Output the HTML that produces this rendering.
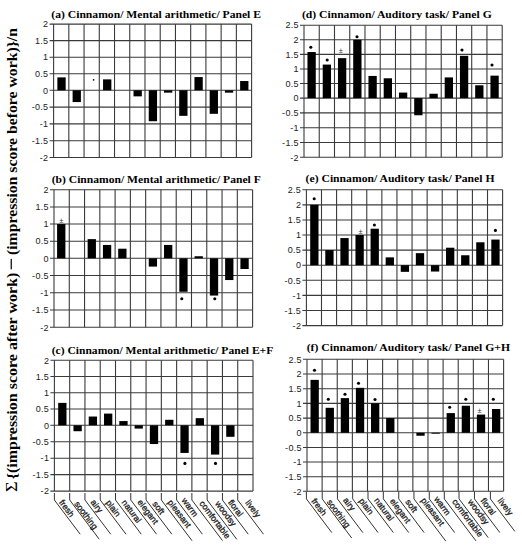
<!DOCTYPE html>
<html><head><meta charset="utf-8"><style>
html,body{margin:0;padding:0;background:#fff;overflow:hidden;width:522px;height:550px;}
svg{display:block;}
.grid line{stroke:#3a3a3a;stroke-width:1.1;shape-rendering:auto;}
.bars rect,.bars circle{fill:#000;}
.tk{font-family:"Liberation Sans",sans-serif;font-size:9.0px;text-anchor:end;fill:#222;letter-spacing:0.3px;}
.tt{font-family:"Liberation Serif",serif;font-weight:bold;font-size:10.8px;fill:#000;}
.pm{font-family:"Liberation Sans",sans-serif;font-size:7.5px;text-anchor:middle;fill:#333;}
.xl{font-family:"Liberation Sans",sans-serif;font-size:8.6px;fill:#1a1a1a;stroke:#1a1a1a;stroke-width:0.3px;}
.xlab polyline{fill:none;stroke:#333;stroke-width:1.0;}
.yl{font-family:"Liberation Serif",serif;font-weight:bold;font-size:14px;fill:#000;}
</style></head><body>
<svg width="522" height="550" viewBox="0 0 522 550">
<rect width="522" height="550" fill="#fff"/>
<g class="grid"><line x1="49.60" y1="24.10" x2="251.60" y2="24.10"/><text class="tk" x="48.40" y="27.35">2</text><line x1="49.60" y1="40.65" x2="251.60" y2="40.65"/><text class="tk" x="48.40" y="43.90">1.5</text><line x1="49.60" y1="57.20" x2="251.60" y2="57.20"/><text class="tk" x="48.40" y="60.45">1</text><line x1="49.60" y1="73.75" x2="251.60" y2="73.75"/><text class="tk" x="48.40" y="77.00">0.5</text><line x1="49.60" y1="90.30" x2="251.60" y2="90.30"/><text class="tk" x="48.40" y="93.55">0</text><line x1="49.60" y1="107.10" x2="251.60" y2="107.10"/><text class="tk" x="48.40" y="110.35">-0.5</text><line x1="49.60" y1="123.90" x2="251.60" y2="123.90"/><text class="tk" x="48.40" y="127.15">-1</text><line x1="49.60" y1="140.70" x2="251.60" y2="140.70"/><text class="tk" x="48.40" y="143.95">-1.5</text><line x1="49.60" y1="157.50" x2="251.60" y2="157.50"/><text class="tk" x="48.40" y="160.75">-2</text><line x1="53.60" y1="24.10" x2="53.60" y2="157.50"/><line x1="68.83" y1="24.10" x2="68.83" y2="157.50"/><line x1="84.06" y1="24.10" x2="84.06" y2="157.50"/><line x1="99.29" y1="24.10" x2="99.29" y2="157.50"/><line x1="114.52" y1="24.10" x2="114.52" y2="157.50"/><line x1="129.75" y1="24.10" x2="129.75" y2="157.50"/><line x1="144.98" y1="24.10" x2="144.98" y2="157.50"/><line x1="160.22" y1="24.10" x2="160.22" y2="157.50"/><line x1="175.45" y1="24.10" x2="175.45" y2="157.50"/><line x1="190.68" y1="24.10" x2="190.68" y2="157.50"/><line x1="205.91" y1="24.10" x2="205.91" y2="157.50"/><line x1="221.14" y1="24.10" x2="221.14" y2="157.50"/><line x1="236.37" y1="24.10" x2="236.37" y2="157.50"/><line x1="251.60" y1="24.10" x2="251.60" y2="157.50"/></g>
<g class="bars"><rect x="57.37" y="77.39" width="8.30" height="12.91"/><rect x="72.60" y="90.30" width="8.30" height="11.76"/><rect x="103.06" y="79.38" width="8.30" height="10.92"/><rect x="133.52" y="90.30" width="8.30" height="6.05"/><rect x="148.75" y="90.30" width="8.30" height="30.91"/><rect x="163.98" y="90.30" width="8.30" height="2.35"/><rect x="179.21" y="90.30" width="8.30" height="25.54"/><rect x="194.44" y="77.06" width="8.30" height="13.24"/><rect x="209.67" y="90.30" width="8.30" height="23.52"/><rect x="224.90" y="90.30" width="8.30" height="2.35"/><rect x="240.13" y="81.03" width="8.30" height="9.27"/><circle cx="93.60" cy="79.80" r="0.85" fill="#222"/></g>
<text class="tt" x="51.30" y="17.80" textLength="209.70" lengthAdjust="spacingAndGlyphs">(a) Cinnamon/ Mental arithmetic/ Panel E</text>
<g class="grid"><line x1="50.00" y1="189.80" x2="252.60" y2="189.80"/><text class="tk" x="48.80" y="193.05">2</text><line x1="50.00" y1="206.93" x2="252.60" y2="206.93"/><text class="tk" x="48.80" y="210.18">1.5</text><line x1="50.00" y1="224.05" x2="252.60" y2="224.05"/><text class="tk" x="48.80" y="227.30">1</text><line x1="50.00" y1="241.18" x2="252.60" y2="241.18"/><text class="tk" x="48.80" y="244.43">0.5</text><line x1="50.00" y1="258.30" x2="252.60" y2="258.30"/><text class="tk" x="48.80" y="261.55">0</text><line x1="50.00" y1="275.55" x2="252.60" y2="275.55"/><text class="tk" x="48.80" y="278.80">-0.5</text><line x1="50.00" y1="292.80" x2="252.60" y2="292.80"/><text class="tk" x="48.80" y="296.05">-1</text><line x1="50.00" y1="310.05" x2="252.60" y2="310.05"/><text class="tk" x="48.80" y="313.30">-1.5</text><line x1="50.00" y1="327.30" x2="252.60" y2="327.30"/><text class="tk" x="48.80" y="330.55">-2</text><line x1="54.00" y1="189.80" x2="54.00" y2="327.30"/><line x1="69.28" y1="189.80" x2="69.28" y2="327.30"/><line x1="84.55" y1="189.80" x2="84.55" y2="327.30"/><line x1="99.83" y1="189.80" x2="99.83" y2="327.30"/><line x1="115.11" y1="189.80" x2="115.11" y2="327.30"/><line x1="130.38" y1="189.80" x2="130.38" y2="327.30"/><line x1="145.66" y1="189.80" x2="145.66" y2="327.30"/><line x1="160.94" y1="189.80" x2="160.94" y2="327.30"/><line x1="176.22" y1="189.80" x2="176.22" y2="327.30"/><line x1="191.49" y1="189.80" x2="191.49" y2="327.30"/><line x1="206.77" y1="189.80" x2="206.77" y2="327.30"/><line x1="222.05" y1="189.80" x2="222.05" y2="327.30"/><line x1="237.32" y1="189.80" x2="237.32" y2="327.30"/><line x1="252.60" y1="189.80" x2="252.60" y2="327.30"/></g>
<g class="bars"><rect x="57.09" y="224.05" width="8.30" height="34.25"/><rect x="87.64" y="239.12" width="8.30" height="19.18"/><rect x="102.92" y="244.94" width="8.30" height="13.36"/><rect x="118.20" y="248.71" width="8.30" height="9.59"/><rect x="148.75" y="258.30" width="8.30" height="8.28"/><rect x="164.03" y="244.94" width="8.30" height="13.36"/><rect x="179.30" y="258.30" width="8.30" height="33.46"/><rect x="194.58" y="256.25" width="8.30" height="2.06"/><rect x="209.86" y="258.30" width="8.30" height="37.26"/><rect x="225.13" y="258.30" width="8.30" height="21.74"/><rect x="240.41" y="258.30" width="8.30" height="10.69"/><text class="pm" x="61.20" y="223.40">±</text><circle cx="181.80" cy="298.70" r="1.55"/><circle cx="214.80" cy="298.70" r="1.55"/></g>
<text class="tt" x="51.70" y="182.50" textLength="209.10" lengthAdjust="spacingAndGlyphs">(b) Cinnamon/ Mental arithmetic/ Panel F</text>
<g class="grid"><line x1="50.40" y1="360.30" x2="253.00" y2="360.30"/><text class="tk" x="49.20" y="363.55">2</text><line x1="50.40" y1="376.55" x2="253.00" y2="376.55"/><text class="tk" x="49.20" y="379.80">1.5</text><line x1="50.40" y1="392.80" x2="253.00" y2="392.80"/><text class="tk" x="49.20" y="396.05">1</text><line x1="50.40" y1="409.05" x2="253.00" y2="409.05"/><text class="tk" x="49.20" y="412.30">0.5</text><line x1="50.40" y1="425.30" x2="253.00" y2="425.30"/><text class="tk" x="49.20" y="428.55">0</text><line x1="50.40" y1="441.75" x2="253.00" y2="441.75"/><text class="tk" x="49.20" y="445.00">-0.5</text><line x1="50.40" y1="458.20" x2="253.00" y2="458.20"/><text class="tk" x="49.20" y="461.45">-1</text><line x1="50.40" y1="474.65" x2="253.00" y2="474.65"/><text class="tk" x="49.20" y="477.90">-1.5</text><line x1="50.40" y1="491.10" x2="253.00" y2="491.10"/><text class="tk" x="49.20" y="494.35">-2</text><line x1="54.40" y1="360.30" x2="54.40" y2="491.10"/><line x1="69.68" y1="360.30" x2="69.68" y2="491.10"/><line x1="84.95" y1="360.30" x2="84.95" y2="491.10"/><line x1="100.23" y1="360.30" x2="100.23" y2="491.10"/><line x1="115.51" y1="360.30" x2="115.51" y2="491.10"/><line x1="130.78" y1="360.30" x2="130.78" y2="491.10"/><line x1="146.06" y1="360.30" x2="146.06" y2="491.10"/><line x1="161.34" y1="360.30" x2="161.34" y2="491.10"/><line x1="176.62" y1="360.30" x2="176.62" y2="491.10"/><line x1="191.89" y1="360.30" x2="191.89" y2="491.10"/><line x1="207.17" y1="360.30" x2="207.17" y2="491.10"/><line x1="222.45" y1="360.30" x2="222.45" y2="491.10"/><line x1="237.72" y1="360.30" x2="237.72" y2="491.10"/><line x1="253.00" y1="360.30" x2="253.00" y2="491.10"/></g>
<g class="bars"><rect x="58.19" y="402.88" width="8.30" height="22.43"/><rect x="73.47" y="425.30" width="8.30" height="5.92"/><rect x="88.74" y="416.53" width="8.30" height="8.77"/><rect x="104.02" y="413.60" width="8.30" height="11.70"/><rect x="119.30" y="421.07" width="8.30" height="4.23"/><rect x="134.57" y="425.30" width="8.30" height="3.29"/><rect x="149.85" y="425.30" width="8.30" height="18.75"/><rect x="165.13" y="419.78" width="8.30" height="5.52"/><rect x="180.40" y="425.30" width="8.30" height="27.64"/><rect x="195.68" y="418.15" width="8.30" height="7.15"/><rect x="210.96" y="425.30" width="8.30" height="29.28"/><rect x="226.23" y="425.30" width="8.30" height="11.51"/><circle cx="184.90" cy="463.40" r="1.55"/><circle cx="215.50" cy="463.40" r="1.55"/></g>
<text class="tt" x="51.70" y="353.60" textLength="221.60" lengthAdjust="spacingAndGlyphs">(c) Cinnamon/ Mental arithmetic/ Panel E+F</text>
<g class="xlab"><polyline points="54.40,493.00 54.40,500.00 80.17,534.20"/><text class="xl" transform="translate(58.68,502.58) rotate(53.0)">fresh</text><polyline points="69.68,493.00 69.68,500.00 99.22,539.20"/><text class="xl" transform="translate(73.96,504.04) rotate(53.0)">soothing</text><polyline points="84.95,493.00 84.95,500.00 110.73,534.20"/><text class="xl" transform="translate(90.14,502.33) rotate(53.0)">airy</text><polyline points="100.23,493.00 100.23,500.00 126.00,534.20"/><text class="xl" transform="translate(105.42,502.83) rotate(53.0)">plain</text><polyline points="115.51,493.00 115.51,500.00 141.28,534.20"/><text class="xl" transform="translate(121.26,502.58) rotate(53.0)">natural</text><polyline points="130.78,493.00 130.78,500.00 156.56,534.20"/><text class="xl" transform="translate(137.11,502.30) rotate(53.0)">elegant</text><polyline points="146.06,493.00 146.06,500.00 171.83,534.20"/><text class="xl" transform="translate(152.09,504.03) rotate(53.0)">soft</text><polyline points="161.34,493.00 161.34,500.00 192.01,540.70"/><text class="xl" transform="translate(167.37,502.58) rotate(53.0)">pleasant</text><polyline points="176.62,493.00 176.62,500.00 202.39,534.20"/><text class="xl" transform="translate(181.21,500.57) rotate(53.0)">warm</text><polyline points="191.89,493.00 191.89,500.00 222.49,540.60"/><text class="xl" transform="translate(199.08,503.42) rotate(53.0)">comfortable</text><polyline points="207.17,493.00 207.17,500.00 236.86,539.40"/><text class="xl" transform="translate(214.66,503.72) rotate(53.0)">woodsy</text><polyline points="222.45,493.00 222.45,500.00 248.22,534.20"/><text class="xl" transform="translate(227.63,502.43) rotate(53.0)">floral</text><polyline points="237.72,493.00 237.72,500.00 263.49,534.20"/><text class="xl" transform="translate(244.90,502.87) rotate(53.0)">lively</text></g>
<g class="grid"><line x1="300.00" y1="25.20" x2="502.20" y2="25.20"/><text class="tk" x="298.80" y="28.45">2.5</text><line x1="300.00" y1="39.78" x2="502.20" y2="39.78"/><text class="tk" x="298.80" y="43.03">2</text><line x1="300.00" y1="54.36" x2="502.20" y2="54.36"/><text class="tk" x="298.80" y="57.61">1.5</text><line x1="300.00" y1="68.94" x2="502.20" y2="68.94"/><text class="tk" x="298.80" y="72.19">1</text><line x1="300.00" y1="83.52" x2="502.20" y2="83.52"/><text class="tk" x="298.80" y="86.77">0.5</text><line x1="300.00" y1="98.10" x2="502.20" y2="98.10"/><text class="tk" x="298.80" y="101.35">0</text><line x1="300.00" y1="112.90" x2="502.20" y2="112.90"/><text class="tk" x="298.80" y="116.15">-0.5</text><line x1="300.00" y1="127.70" x2="502.20" y2="127.70"/><text class="tk" x="298.80" y="130.95">-1</text><line x1="300.00" y1="142.50" x2="502.20" y2="142.50"/><text class="tk" x="298.80" y="145.75">-1.5</text><line x1="300.00" y1="157.30" x2="502.20" y2="157.30"/><text class="tk" x="298.80" y="160.55">-2</text><line x1="304.00" y1="25.20" x2="304.00" y2="157.30"/><line x1="319.25" y1="25.20" x2="319.25" y2="157.30"/><line x1="334.49" y1="25.20" x2="334.49" y2="157.30"/><line x1="349.74" y1="25.20" x2="349.74" y2="157.30"/><line x1="364.98" y1="25.20" x2="364.98" y2="157.30"/><line x1="380.23" y1="25.20" x2="380.23" y2="157.30"/><line x1="395.48" y1="25.20" x2="395.48" y2="157.30"/><line x1="410.72" y1="25.20" x2="410.72" y2="157.30"/><line x1="425.97" y1="25.20" x2="425.97" y2="157.30"/><line x1="441.22" y1="25.20" x2="441.22" y2="157.30"/><line x1="456.46" y1="25.20" x2="456.46" y2="157.30"/><line x1="471.71" y1="25.20" x2="471.71" y2="157.30"/><line x1="486.95" y1="25.20" x2="486.95" y2="157.30"/><line x1="502.20" y1="25.20" x2="502.20" y2="157.30"/></g>
<g class="bars"><rect x="307.47" y="52.03" width="8.30" height="46.07"/><rect x="322.72" y="64.57" width="8.30" height="33.53"/><rect x="337.97" y="58.15" width="8.30" height="39.95"/><rect x="353.21" y="39.78" width="8.30" height="58.32"/><rect x="368.46" y="75.94" width="8.30" height="22.16"/><rect x="383.70" y="78.27" width="8.30" height="19.83"/><rect x="398.95" y="92.56" width="8.30" height="5.54"/><rect x="414.20" y="98.10" width="8.30" height="17.17"/><rect x="429.44" y="93.73" width="8.30" height="4.37"/><rect x="444.69" y="77.40" width="8.30" height="20.70"/><rect x="459.93" y="55.82" width="8.30" height="42.28"/><rect x="475.18" y="85.27" width="8.30" height="12.83"/><rect x="490.43" y="75.65" width="8.30" height="22.45"/><circle cx="310.80" cy="47.20" r="1.55"/><circle cx="327.20" cy="60.00" r="1.55"/><text class="pm" x="340.80" y="53.20">±</text><circle cx="357.00" cy="36.70" r="1.55"/><circle cx="462.00" cy="50.00" r="1.55"/><circle cx="492.00" cy="65.00" r="1.55"/></g>
<text class="tt" x="301.90" y="17.60" textLength="189.80" lengthAdjust="spacingAndGlyphs">(d) Cinnamon/ Auditory task/ Panel G</text>
<g class="grid"><line x1="302.40" y1="189.80" x2="502.60" y2="189.80"/><text class="tk" x="301.20" y="193.05">2.5</text><line x1="302.40" y1="204.88" x2="502.60" y2="204.88"/><text class="tk" x="301.20" y="208.13">2</text><line x1="302.40" y1="219.96" x2="502.60" y2="219.96"/><text class="tk" x="301.20" y="223.21">1.5</text><line x1="302.40" y1="235.04" x2="502.60" y2="235.04"/><text class="tk" x="301.20" y="238.29">1</text><line x1="302.40" y1="250.12" x2="502.60" y2="250.12"/><text class="tk" x="301.20" y="253.37">0.5</text><line x1="302.40" y1="265.20" x2="502.60" y2="265.20"/><text class="tk" x="301.20" y="268.45">0</text><line x1="302.40" y1="280.30" x2="502.60" y2="280.30"/><text class="tk" x="301.20" y="283.55">-0.5</text><line x1="302.40" y1="295.40" x2="502.60" y2="295.40"/><text class="tk" x="301.20" y="298.65">-1</text><line x1="302.40" y1="310.50" x2="502.60" y2="310.50"/><text class="tk" x="301.20" y="313.75">-1.5</text><line x1="302.40" y1="325.60" x2="502.60" y2="325.60"/><text class="tk" x="301.20" y="328.85">-2</text><line x1="306.40" y1="189.80" x2="306.40" y2="325.60"/><line x1="321.49" y1="189.80" x2="321.49" y2="325.60"/><line x1="336.58" y1="189.80" x2="336.58" y2="325.60"/><line x1="351.68" y1="189.80" x2="351.68" y2="325.60"/><line x1="366.77" y1="189.80" x2="366.77" y2="325.60"/><line x1="381.86" y1="189.80" x2="381.86" y2="325.60"/><line x1="396.95" y1="189.80" x2="396.95" y2="325.60"/><line x1="412.05" y1="189.80" x2="412.05" y2="325.60"/><line x1="427.14" y1="189.80" x2="427.14" y2="325.60"/><line x1="442.23" y1="189.80" x2="442.23" y2="325.60"/><line x1="457.32" y1="189.80" x2="457.32" y2="325.60"/><line x1="472.42" y1="189.80" x2="472.42" y2="325.60"/><line x1="487.51" y1="189.80" x2="487.51" y2="325.60"/><line x1="502.60" y1="189.80" x2="502.60" y2="325.60"/></g>
<g class="bars"><rect x="310.20" y="204.88" width="8.30" height="60.32"/><rect x="325.29" y="250.12" width="8.30" height="15.08"/><rect x="340.38" y="238.06" width="8.30" height="27.14"/><rect x="355.47" y="235.04" width="8.30" height="30.16"/><rect x="370.57" y="228.71" width="8.30" height="36.49"/><rect x="385.66" y="257.36" width="8.30" height="7.84"/><rect x="400.75" y="265.20" width="8.30" height="6.64"/><rect x="415.84" y="253.14" width="8.30" height="12.06"/><rect x="430.93" y="265.20" width="8.30" height="6.34"/><rect x="446.03" y="247.71" width="8.30" height="17.49"/><rect x="461.12" y="255.25" width="8.30" height="9.95"/><rect x="476.21" y="242.28" width="8.30" height="22.92"/><rect x="491.30" y="239.56" width="8.30" height="25.64"/><circle cx="314.20" cy="198.80" r="1.55"/><text class="pm" x="360.50" y="233.80">±</text><circle cx="374.40" cy="225.00" r="1.55"/><circle cx="495.40" cy="230.40" r="1.55"/></g>
<text class="tt" x="305.60" y="182.10" textLength="188.90" lengthAdjust="spacingAndGlyphs">(e) Cinnamon/ Auditory task/ Panel H</text>
<g class="grid"><line x1="303.00" y1="359.30" x2="503.60" y2="359.30"/><text class="tk" x="301.80" y="362.55">2.5</text><line x1="303.00" y1="374.00" x2="503.60" y2="374.00"/><text class="tk" x="301.80" y="377.25">2</text><line x1="303.00" y1="388.70" x2="503.60" y2="388.70"/><text class="tk" x="301.80" y="391.95">1.5</text><line x1="303.00" y1="403.40" x2="503.60" y2="403.40"/><text class="tk" x="301.80" y="406.65">1</text><line x1="303.00" y1="418.10" x2="503.60" y2="418.10"/><text class="tk" x="301.80" y="421.35">0.5</text><line x1="303.00" y1="432.80" x2="503.60" y2="432.80"/><text class="tk" x="301.80" y="436.05">0</text><line x1="303.00" y1="447.43" x2="503.60" y2="447.43"/><text class="tk" x="301.80" y="450.68">-0.5</text><line x1="303.00" y1="462.05" x2="503.60" y2="462.05"/><text class="tk" x="301.80" y="465.30">-1</text><line x1="303.00" y1="476.68" x2="503.60" y2="476.68"/><text class="tk" x="301.80" y="479.93">-1.5</text><line x1="303.00" y1="491.30" x2="503.60" y2="491.30"/><text class="tk" x="301.80" y="494.55">-2</text><line x1="307.00" y1="359.30" x2="307.00" y2="491.30"/><line x1="322.12" y1="359.30" x2="322.12" y2="491.30"/><line x1="337.25" y1="359.30" x2="337.25" y2="491.30"/><line x1="352.37" y1="359.30" x2="352.37" y2="491.30"/><line x1="367.49" y1="359.30" x2="367.49" y2="491.30"/><line x1="382.62" y1="359.30" x2="382.62" y2="491.30"/><line x1="397.74" y1="359.30" x2="397.74" y2="491.30"/><line x1="412.86" y1="359.30" x2="412.86" y2="491.30"/><line x1="427.98" y1="359.30" x2="427.98" y2="491.30"/><line x1="443.11" y1="359.30" x2="443.11" y2="491.30"/><line x1="458.23" y1="359.30" x2="458.23" y2="491.30"/><line x1="473.35" y1="359.30" x2="473.35" y2="491.30"/><line x1="488.48" y1="359.30" x2="488.48" y2="491.30"/><line x1="503.60" y1="359.30" x2="503.60" y2="491.30"/></g>
<g class="bars"><rect x="310.51" y="379.88" width="8.30" height="52.92"/><rect x="325.63" y="407.81" width="8.30" height="24.99"/><rect x="340.76" y="398.11" width="8.30" height="34.69"/><rect x="355.88" y="387.82" width="8.30" height="44.98"/><rect x="371.00" y="403.40" width="8.30" height="29.40"/><rect x="386.13" y="418.10" width="8.30" height="14.70"/><rect x="416.37" y="432.80" width="8.30" height="2.93"/><rect x="431.50" y="432.80" width="8.30" height="0.88"/><rect x="446.62" y="413.10" width="8.30" height="19.70"/><rect x="461.74" y="405.75" width="8.30" height="27.05"/><rect x="476.87" y="414.57" width="8.30" height="18.23"/><rect x="491.99" y="408.99" width="8.30" height="23.81"/><circle cx="314.50" cy="370.30" r="1.55"/><circle cx="328.30" cy="399.20" r="1.55"/><circle cx="345.00" cy="394.20" r="1.55"/><circle cx="358.50" cy="383.30" r="1.55"/><circle cx="375.00" cy="399.50" r="1.55"/><circle cx="449.70" cy="407.20" r="1.55"/><circle cx="465.80" cy="399.20" r="1.55"/><text class="pm" x="479.50" y="412.90">±</text><circle cx="493.30" cy="399.20" r="1.55"/></g>
<text class="tt" x="306.70" y="351.00" textLength="203.30" lengthAdjust="spacingAndGlyphs">(f) Cinnamon/ Auditory task/ Panel G+H</text>
<g class="xlab"><polyline points="306.40,491.60 306.40,498.90 331.79,532.60"/><text class="xl" transform="translate(311.02,501.17) rotate(53.0)">fresh</text><polyline points="322.22,491.60 322.22,498.90 351.69,538.00"/><text class="xl" transform="translate(326.45,502.32) rotate(53.0)">soothing</text><polyline points="337.45,491.60 337.45,498.90 362.84,532.60"/><text class="xl" transform="translate(342.69,500.31) rotate(53.0)">airy</text><polyline points="352.67,491.60 352.67,498.90 378.06,532.60"/><text class="xl" transform="translate(358.40,500.88) rotate(53.0)">plain</text><polyline points="367.99,491.60 367.99,498.90 393.39,532.60"/><text class="xl" transform="translate(373.82,500.60) rotate(53.0)">natural</text><polyline points="383.32,491.60 383.32,498.90 408.71,532.60"/><text class="xl" transform="translate(389.42,501.28) rotate(53.0)">elegant</text><polyline points="398.74,491.60 398.74,498.90 424.13,532.60"/><text class="xl" transform="translate(404.93,502.02) rotate(53.0)">soft</text><polyline points="413.96,491.60 413.96,498.90 445.84,541.20"/><text class="xl" transform="translate(420.61,500.60) rotate(53.0)">pleasant</text><polyline points="429.28,491.60 429.28,498.90 454.68,532.60"/><text class="xl" transform="translate(433.73,499.16) rotate(53.0)">warm</text><polyline points="444.31,491.60 444.31,498.90 475.96,540.90"/><text class="xl" transform="translate(451.74,501.73) rotate(53.0)">comfortable</text><polyline points="459.03,491.60 459.03,498.90 488.19,537.60"/><text class="xl" transform="translate(467.42,502.03) rotate(53.0)">woodsy</text><polyline points="474.45,491.60 474.45,498.90 499.85,532.60"/><text class="xl" transform="translate(480.22,500.86) rotate(53.0)">floral</text><polyline points="490.38,491.60 490.38,498.90 514.79,531.30"/><text class="xl" transform="translate(497.34,500.86) rotate(53.0)">lively</text></g>
<text class="yl" transform="translate(17.4,492) rotate(-90)" textLength="219.3" lengthAdjust="spacingAndGlyphs"><tspan font-weight="normal" font-size="16">Σ</tspan><tspan dx="1.8">{</tspan>(impression score after work)</text>
<rect x="10.6" y="258.9" width="1.3" height="10.4" fill="#111"/>
<text class="yl" transform="translate(17.4,255.0) rotate(-90)" textLength="227" lengthAdjust="spacingAndGlyphs">(impression score before work)}/n</text>
</svg>
</body></html>
